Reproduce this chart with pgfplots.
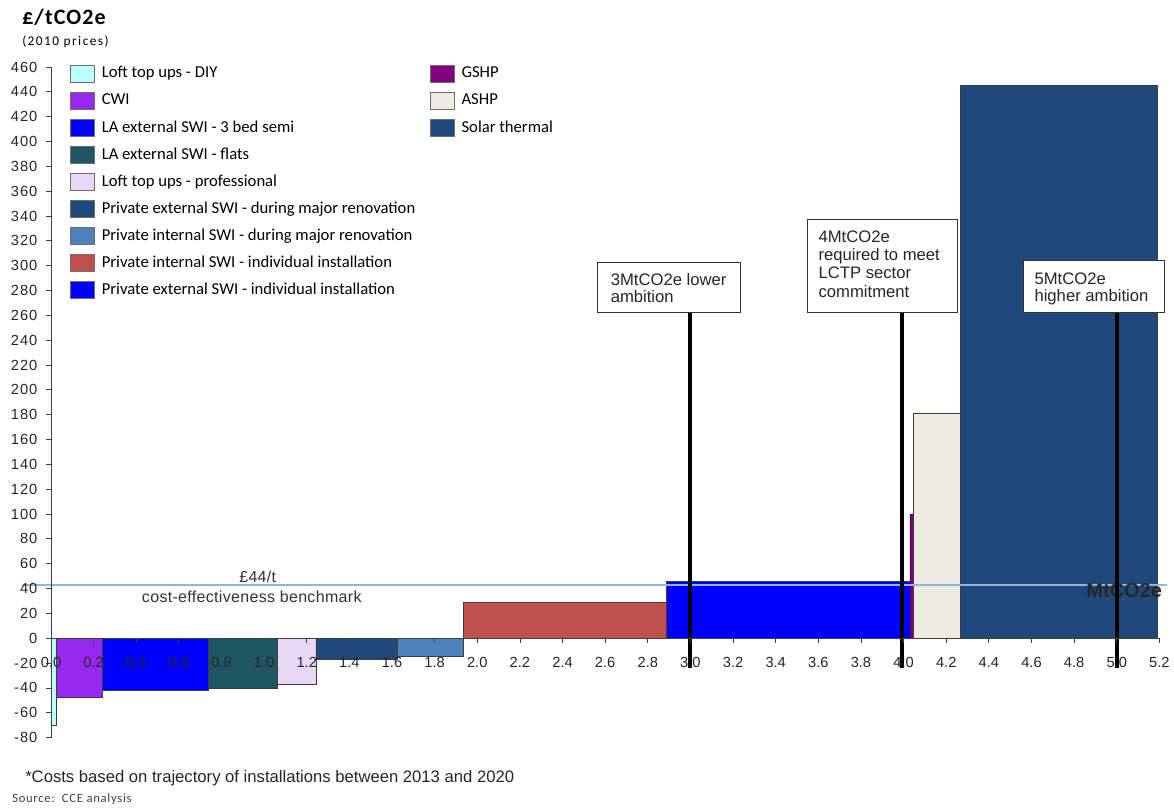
\documentclass[border=0pt]{standalone}
\usepackage{pgfplots}
\pgfplotsset{compat=1.18}
\usepackage{fontspec}
\setmainfont{Liberation Sans}
\newfontfamily\calibri{Carlito}
\newfontfamily\calibriw[LetterSpace=5]{Carlito}
\newfontfamily\calibriww[LetterSpace=11]{Carlito}
\newfontfamily\calibris[LetterSpace=5.5]{Carlito}
\newfontfamily\arialw[LetterSpace=2]{Liberation Sans}
\newfontfamily\ytickfont[LetterSpace=7]{Liberation Sans}

\definecolor{diy}{RGB}{185,255,255}
\definecolor{cwi}{RGB}{150,40,240}
\definecolor{labed}{RGB}{0,0,255}
\definecolor{laflats}{RGB}{31,86,99}
\definecolor{loftpro}{RGB}{232,215,245}
\definecolor{pextmaj}{RGB}{31,73,125}
\definecolor{pintmaj}{RGB}{79,129,189}
\definecolor{pintind}{RGB}{192,80,77}
\definecolor{pextind}{RGB}{0,0,255}
\definecolor{gshp}{RGB}{128,0,128}
\definecolor{ashp}{RGB}{238,236,225}
\definecolor{solar}{RGB}{31,73,125}
\definecolor{edge}{RGB}{60,60,60}
\definecolor{legedge}{RGB}{110,110,110}
\definecolor{bench}{RGB}{149,179,215}

\pgfplotsset{
  macc/.style={
    scale only axis, width=831.75pt, height=503.25pt,
    at={(38.25pt,54pt)}, anchor=south west,
    xmin=0, xmax=5.2, ymin=-80, ymax=460, clip=false,
    legend image code/.code={\draw[#1,draw=legedge,line width=0.7pt] (0pt,-6.4pt) rectangle (18pt,6.4pt);},
    legend cell align=left,
    legend style={draw=none, fill=none, anchor=north west,
      font=\calibri\fontsize{12.5}{14}\selectfont,
      row sep=6.8pt,
      nodes={inner sep=1pt, text height=8.5pt, text depth=2.5pt},
      /tikz/every odd column/.append style={column sep=4pt}},
  },
  bar/.style={draw=edge, line width=0.6pt, fill=#1},
}
\tikzset{boxtext/.style={anchor=base west, inner sep=0pt, text=black!85, font=\fontsize{12.5}{14}\selectfont}}

\begin{document}
\begin{tikzpicture}
\path (0,0) rectangle (880.5pt,607.5pt);

% unit label and price base
\node[anchor=west, inner sep=0pt] at (16.5pt,594.75pt) {\calibriw\bfseries\fontsize{16.5}{18}\selectfont £/tCO2e};
\node[anchor=west, inner sep=0pt] at (16.5pt,576pt) {\calibriww\fontsize{10}{12}\selectfont (2010 prices)};

\begin{axis}[macc,
  axis on top,
  axis x line=middle, axis y line=left,
  axis line style={-, black!75, line width=0.6pt},
  hide obscured x ticks=false, hide obscured y ticks=false,
  tick align=outside, major tick length=3.5pt,
  tick style={black!75, line width=0.6pt},
  xtick={0,0.2,0.4,0.6,0.8,1.0,1.2,1.4,1.6,1.8,2.0,2.2,2.4,2.6,2.8,3.0,3.2,3.4,3.6,3.8,4.0,4.2,4.4,4.6,4.8,5.0,5.2},
  xticklabels={0.0,0.2,0.4,0.6,0.8,1.0,1.2,1.4,1.6,1.8,2.0,2.2,2.4,2.6,2.8,3.0,3.2,3.4,3.6,3.8,4.0,4.2,4.4,4.6,4.8,5.0,5.2},
  ytick={-80,-60,-40,-20,0,20,40,60,80,100,120,140,160,180,200,220,240,260,280,300,320,340,360,380,400,420,440,460},
  yticklabels={-80,-60,-40,-20,0,20,40,60,80,100,120,140,160,180,200,220,240,260,280,300,320,340,360,380,400,420,440,460},
  xticklabel style={font=\fontsize{11}{13}\selectfont, text=black!85, yshift=-7.5pt},
  yticklabel style={font=\ytickfont\fontsize{11}{13}\selectfont, text=black!85, xshift=-3.2pt},
  legend style={at={(0.0135,1.0074)}},
]
% abatement cost bars: width = abatement (MtCO2e), height = cost
\addplot[bar=diy]     coordinates {(0,0)(0,-70)(0.027,-70)(0.027,0)(0,0)};
\addplot[bar=cwi]     coordinates {(0.027,0)(0.027,-48)(0.243,-48)(0.243,0)(0.027,0)};
\addplot[bar=labed]   coordinates {(0.243,0)(0.243,-42)(0.74,-42)(0.74,0)(0.243,0)};
\addplot[bar=laflats] coordinates {(0.74,0)(0.74,-40)(1.061,-40)(1.061,0)(0.74,0)};
\addplot[bar=loftpro] coordinates {(1.061,0)(1.061,-37)(1.243,-37)(1.243,0)(1.061,0)};
\addplot[bar=pextmaj] coordinates {(1.243,0)(1.243,-17)(1.624,-17)(1.624,0)(1.243,0)};
\addplot[bar=pintmaj] coordinates {(1.624,0)(1.624,-15)(1.933,-15)(1.933,0)(1.624,0)};
\addplot[bar=pintind] coordinates {(1.933,0)(1.933,29)(2.888,29)(2.888,0)(1.933,0)};
\addplot[bar=pextind] coordinates {(2.888,0)(2.888,46)(4.03,46)(4.03,0)(2.888,0)};
\addplot[bar=gshp, draw=gshp!60!black, forget plot]  coordinates {(4.03,0)(4.03,100)(4.046,100)(4.046,0)(4.03,0)};
\addplot[bar=ashp, forget plot]  coordinates {(4.046,0)(4.046,181)(4.268,181)(4.268,0)(4.046,0)};
\addplot[bar=solar, forget plot] coordinates {(4.268,0)(4.268,445)(5.19,445)(5.19,0)(4.268,0)};
\legend{Loft top ups - DIY, CWI, LA external SWI - 3 bed semi, LA external SWI - flats,
  Loft top ups - professional, Private external SWI - during major renovation,
  Private internal SWI - during major renovation, Private internal SWI - individual installation,
  Private external SWI - individual installation}

% cost-effectiveness benchmark
\addplot[bench, line width=1.5pt, forget plot] coordinates {(-0.136,43)(5.237,43)};
\node[text=black!80, font=\arialw\fontsize{12}{14}\selectfont] at (axis cs:0.97,49.5) {£44/t};
\node[text=black!80, font=\arialw\fontsize{12}{14}\selectfont] at (axis cs:0.942,33.5) {cost-effectiveness benchmark};

\node[text=black!85, font=\bfseries\fontsize{15}{17}\selectfont] at (axis cs:5.035,38) {MtCO2e};

% ambition markers
\addplot[black, line width=3pt, forget plot] coordinates {(3.0,262)(3.0,-24)};
\addplot[black, line width=3pt, forget plot] coordinates {(3.993,262)(3.993,-24)};
\addplot[black, line width=3pt, forget plot] coordinates {(5.0,262)(5.0,-24)};

\draw[fill=white, draw=black!80, line width=0.7pt] (axis cs:2.565,262) rectangle (axis cs:3.235,302.8);
\node[boxtext] at (axis cs:2.625,284.3) {3MtCO2e lower};
\node[boxtext] at (axis cs:2.625,270.6) {ambition};

\draw[fill=white, draw=black!80, line width=0.7pt] (axis cs:3.549,262) rectangle (axis cs:4.252,337.5);
\node[boxtext] at (axis cs:3.600,318.6) {4MtCO2e};
\node[boxtext] at (axis cs:3.600,304.3) {required to meet};
\node[boxtext] at (axis cs:3.600,289.5) {LCTP sector};
\node[boxtext] at (axis cs:3.600,274.1) {commitment};

\draw[fill=white, draw=black!80, line width=0.7pt] (axis cs:4.562,262) rectangle (axis cs:5.224,304);
\node[boxtext] at (axis cs:4.613,285.1) {5MtCO2e};
\node[boxtext] at (axis cs:4.613,271.5) {higher ambition};
\end{axis}

% second legend column: heat technologies
\begin{axis}[macc, hide axis, legend style={at={(0.3381,1.0074)}}]
\addlegendimage{fill=gshp}
\addlegendentry{GSHP}
\addlegendimage{fill=ashp}
\addlegendentry{ASHP}
\addlegendimage{fill=solar}
\addlegendentry{Solar thermal}
\end{axis}

\node[anchor=west, inner sep=0pt, text=black!85] at (18.75pt,23.25pt) {\fontsize{12.5}{14}\selectfont *Costs based on trajectory of installations between 2013  and 2020};
\node[anchor=west, inner sep=0pt, text=black!75] at (9pt,7.5pt) {\calibris\fontsize{9.5}{11}\selectfont Source:\ \ CCE analysis};
\end{tikzpicture}
\end{document}
